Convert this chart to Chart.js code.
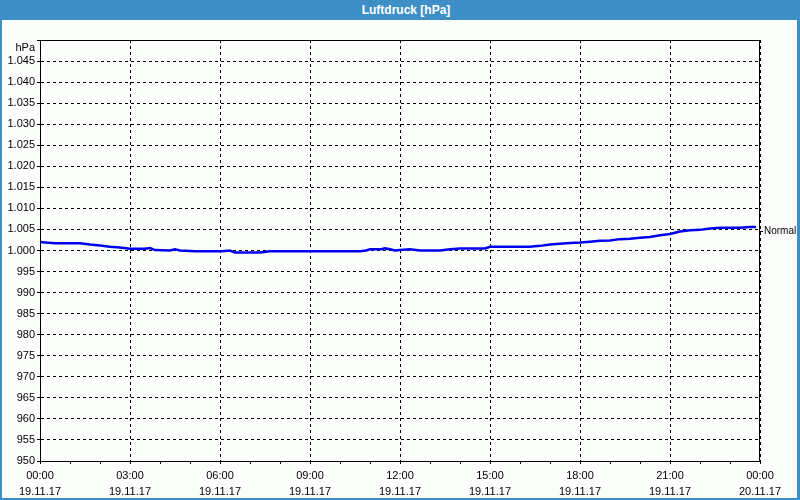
<!DOCTYPE html>
<html lang="de">
<head>
    <meta charset="UTF-8">
    <title>Luftdruck [hPa]</title>
    <style>
        body {
            margin: 0;
            font-family: "Liberation Sans", Arial, sans-serif;
        }
        #frame {
            position: relative;
            width: 800px;
            height: 500px;
            background: #fcfefc;
            overflow: hidden;
        }
        #frame canvas {
            position: absolute;
            left: 0;
            top: 0;
        }
        #titlebar {
            position: absolute;
            left: 0;
            top: 0;
            width: 800px;
            height: 20px;
            line-height: 20px;
            background: #3d8fc6;
            color: #fff;
            font-weight: bold;
            font-size: 12px;
            text-align: center;
            padding-left: 12px;
            box-sizing: border-box;
        }
        #edges {
            position: absolute;
            left: 0;
            top: 0;
            width: 800px;
            height: 500px;
            box-sizing: border-box;
            border-left: 2px solid #3d8fc6;
            border-right: 3px solid #3d8fc6;
            border-bottom: 2px solid #3d8fc6;
            pointer-events: none;
        }
    </style>
</head>
<body>
<div id="frame">
    <canvas id="myChart" width="800" height="500"></canvas>
    <div id="titlebar">Luftdruck [hPa]</div>
    <div id="edges"></div>
</div>

<script src="https://cdn.jsdelivr.net/npm/chart.js"></script>
<script>
    // time of day in hours (19.11.17 00:00 = 0)
    var timeHours = [
        0.00, 0.17, 0.50, 1.33, 1.67, 2.00, 2.33, 2.67, 3.00, 3.50,
        3.67, 3.83, 4.33, 4.50, 4.67, 5.17, 6.00, 6.17, 6.33, 6.50,
        7.33, 7.67, 10.67, 10.87, 11.00, 11.37, 11.50, 11.67, 11.83, 12.00,
        12.33, 12.67, 13.33, 13.67, 14.00, 14.83, 15.00, 16.33, 16.67, 17.00,
        17.33, 17.67, 18.00, 18.33, 18.67, 19.00, 19.33, 19.67, 20.00, 20.33,
        20.67, 21.00, 21.33, 21.67, 22.00, 22.33, 22.67, 23.33, 23.67, 23.87
    ];
    // pressure in hPa
    var pressure = [
        1002.0, 1001.9, 1001.7, 1001.7, 1001.4, 1001.2, 1000.9, 1000.7, 1000.4, 1000.4,
        1000.6, 1000.1, 1000.0, 1000.3, 1000.0, 999.8, 999.8, 999.9, 1000.0, 999.5,
        999.5, 999.8, 999.8, 1000.0, 1000.3, 1000.3, 1000.5, 1000.3, 1000.0, 1000.1,
        1000.3, 1000.0, 1000.0, 1000.3, 1000.5, 1000.5, 1000.9, 1000.9, 1001.1, 1001.4,
        1001.6, 1001.8, 1001.9, 1002.1, 1002.3, 1002.4, 1002.7, 1002.8, 1003.0, 1003.2,
        1003.6, 1003.9, 1004.5, 1004.8, 1004.9, 1005.2, 1005.4, 1005.4, 1005.6, 1005.6
    ];
    var xTickLabels = [
        ['00:00', '19.11.17'], ['03:00', '19.11.17'], ['06:00', '19.11.17'],
        ['09:00', '19.11.17'], ['12:00', '19.11.17'], ['15:00', '19.11.17'],
        ['18:00', '19.11.17'], ['21:00', '19.11.17'], ['00:00', '20.11.17']
    ];
    var normalValue = 1004.5;
    var normalLabel = 'Normal';
    var yUnit = 'hPa';

    var points = timeHours.map(function (t, i) {
        return { x: t, y: pressure[i] };
    });

    // plain black box round the plot area
    var plotBox = {
        id: 'plotBox',
        afterDraw: function (chart) {
            var a = chart.chartArea;
            var ctx = chart.ctx;
            ctx.save();
            ctx.strokeStyle = '#000';
            ctx.lineWidth = 1;
            ctx.setLineDash([]);
            ctx.strokeRect(Math.round(a.left) + 0.5, Math.round(a.top) + 0.5,
                Math.round(a.right - a.left) - 1, Math.round(a.bottom - a.top));
            ctx.restore();
        }
    };

    var tickFont = { family: '"Liberation Sans", Arial, sans-serif', size: 11, lineHeight: 1.45 };

    var ctx = document.getElementById('myChart').getContext('2d');
    window.myChart = new Chart(ctx, {
        type: 'line',
        data: {
            datasets: [{
                label: 'Luftdruck',
                data: points,
                borderColor: '#0000ee',
                borderWidth: 2.5,
                pointRadius: 0,
                tension: 0,
                fill: false
            }]
        },
        options: {
            responsive: false,
            animation: false,
            layout: { padding: { top: 40, left: 0, right: 0, bottom: 0 } },
            plugins: {
                legend: { display: false },
                tooltip: { enabled: false }
            },
            scales: {
                x: {
                    type: 'linear',
                    min: 0,
                    max: 24,
                    afterFit: function (scale) { scale.height = 39; },
                    grid: {
                        color: function (c) {
                            return c.tick && c.tick.value % 3 === 0 ? '#000' : 'rgba(0,0,0,0)';
                        },
                        tickColor: '#000',
                        tickLength: 3
                    },
                    border: { display: true, color: '#000', dash: [3, 3] },
                    ticks: {
                        stepSize: 1,
                        autoSkip: false,
                        maxRotation: 0,
                        padding: 4,
                        color: '#000',
                        font: tickFont,
                        callback: function (v) {
                            return v % 3 === 0 ? xTickLabels[v / 3] : '';
                        }
                    }
                },
                y: {
                    position: 'left',
                    min: 950,
                    max: 1050,
                    afterFit: function (scale) { scale.width = 40; },
                    grid: { color: '#000', tickColor: '#000', tickLength: 3 },
                    border: { display: true, color: '#000', dash: [3, 3] },
                    ticks: {
                        stepSize: 5,
                        autoSkip: false,
                        padding: 2,
                        color: '#000',
                        font: tickFont,
                        callback: function (v) {
                            if (v === 1050) return ['', yUnit];
                            return v >= 1000 ? '1.' + String(v).slice(1) : String(v);
                        }
                    }
                },
                y2: {
                    position: 'right',
                    min: 950,
                    max: 1050,
                    afterFit: function (scale) { scale.width = 40; },
                    afterBuildTicks: function (scale) {
                        scale.ticks = [{ value: normalValue }];
                    },
                    grid: { drawOnChartArea: false, color: '#000', tickColor: '#000', tickLength: 3 },
                    border: { display: false },
                    ticks: {
                        padding: 1,
                        color: '#000',
                        font: { family: '"Liberation Sans", Arial, sans-serif', size: 10 },
                        callback: function () { return normalLabel; }
                    }
                }
            }
        },
        plugins: [plotBox]
    });
</script>
</body>
</html>
